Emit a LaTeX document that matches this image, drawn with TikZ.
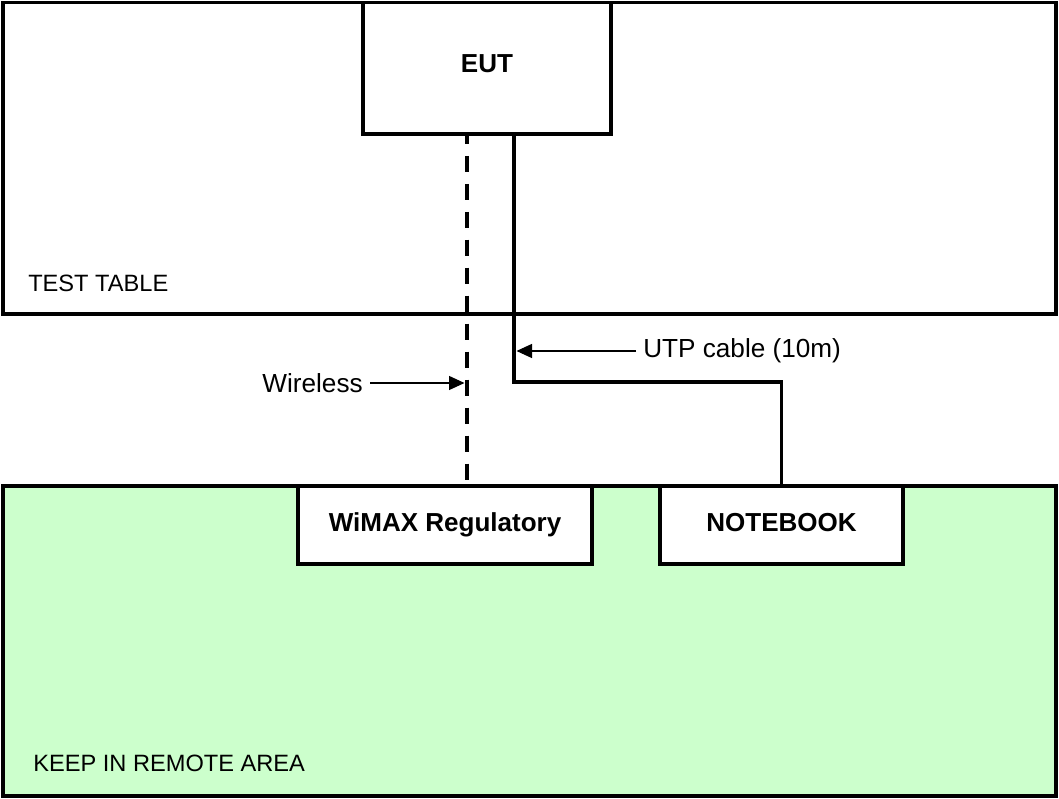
\documentclass[tikz,border=0pt]{standalone}
\usepackage{fontspec}
\setmainfont{Liberation Sans}
\usepackage{tikz}
\usetikzlibrary{calc}
\usetikzlibrary{arrows.meta}
\definecolor{remotegreen}{RGB}{204,255,204}

\begin{document}
\begin{tikzpicture}[x=0.025cm,y=-0.025cm] %% test setup
	\tikzstyle{area}=[draw,line width=2.5pt,inner sep=0pt]
	\tikzstyle{box}=[draw,line width=2.5pt,fill=white,inner sep=0pt,text height=0.75em,text depth=0.2em,font=\bfseries\fontsize{18.5}{22}\selectfont]
	\tikzstyle{unit}=[box,text height=0.95em,text depth=0em]
	\tikzstyle{caption}=[inner sep=0pt,font=\fontsize{16.8}{20}\selectfont]
	\tikzstyle{tag}=[inner xsep=5pt,inner ysep=0pt,font=\fontsize{18.6}{22}\selectfont]
	\tikzstyle{cable}=[line width=2.8pt]
	\tikzstyle{radio}=[line width=3.4pt,dash pattern=on 11.4pt off 8.5pt,dash phase=5.7pt]
	\tikzstyle{pointer}=[line width=0.8pt,-{Triangle[length=11pt,width=10pt]},shorten >=1.8pt]
	\useasboundingbox (0,0) rectangle (1059,799);
	% the two areas
	\node[area,minimum width=26.325cm,minimum height=7.79cm] (table) at (529.5,158.25) {};
	\node[area,fill=remotegreen,minimum width=26.325cm,minimum height=7.75cm] (remote) at (529.5,641) {};
	\node[caption,anchor=base west] (tablename) at (28,291.5) {TEST TABLE};
	\node[caption,anchor=base west] (remotename) at (33,771.5) {KEEP IN REMOTE AREA};
	% equipment
	\node[box,minimum width=6.2cm,minimum height=3.29cm] (eut) at (487,68.25) {EUT};
	\node[unit,minimum width=7.35cm,minimum height=1.95cm] (wimax) at (445,525) {WiMAX Regulatory};
	\node[unit,minimum width=6.075cm,minimum height=1.95cm] (notebook) at (781.5,525) {NOTEBOOK};
	% links
	\coordinate (air) at (467,383);
	\coordinate (bend) at (514,382);
	\draw[radio] (eut.south -| air) -- (wimax.north -| air);
	\draw[cable] (eut.south -| bend) -- (bend) -| (notebook.north);
	\node[tag,anchor=west] (utp) at (636,351) {UTP cable (10m)};
	\node[tag,anchor=east] (wireless) at (370,383) {Wireless};
	\draw[pointer] (utp.west) -- (utp.west -| bend);
	\draw[pointer] (wireless.east) -- (wireless.east -| air);
\end{tikzpicture}
\end{document}
